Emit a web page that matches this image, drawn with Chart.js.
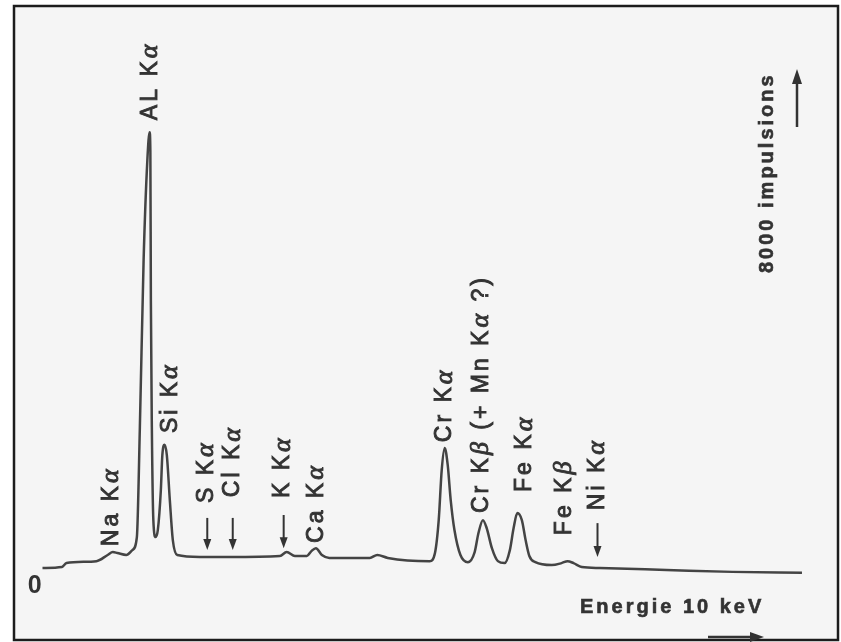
<!DOCTYPE html>
<html>
<head>
<meta charset="utf-8">
<title>Spectre EDX</title>
<script src="https://cdn.jsdelivr.net/npm/chart.js@4.4.1/dist/chart.umd.min.js"></script>
<style>
  html, body { margin: 0; padding: 0; background: #fff; }
  #wrap { width: 841px; height: 642px; }
</style>
</head>
<body>
<div id="wrap"><canvas id="spectrum" width="841" height="642"></canvas></div>
<script>
// energy (keV) / counts
const energy = [0.06, 0.32, 0.38, 0.78, 0.93, 1.00, 1.06, 1.18, 1.26, 1.32, 1.36, 1.41, 1.46, 1.49, 1.50, 1.507,
  1.52, 1.54, 1.57, 1.60, 1.64, 1.66, 1.69, 1.72, 1.76, 1.80, 1.86, 2.16, 2.56, 3.23, 3.32, 3.43, 3.59, 3.65,
  3.71, 3.79, 3.89, 4.43, 4.53, 4.67, 5.23, 5.30, 5.35, 5.39, 5.43, 5.47, 5.51, 5.56, 5.64, 5.74, 5.83, 5.88,
  5.94, 5.99, 6.06, 6.14, 6.23, 6.30, 6.35, 6.40, 6.46, 6.51, 6.56, 6.64, 6.86, 6.99, 7.07, 7.15, 7.26, 7.50,
  8.39, 9.27, 10.20];
const counts = [185, 200, 260, 290, 385, 430, 415, 385, 460, 660, 2350, 4920, 6460, 6890, 6610, 4300,
  2350, 920, 660, 770, 1380, 1920, 2080, 1920, 1230, 615, 385, 355, 355, 370, 430, 370, 370, 445,
  490, 385, 340, 340, 385, 340, 290, 415, 920, 1690, 2030, 1770, 1230, 770, 385, 275, 430, 720,
  920, 800, 490, 290, 260, 460, 800, 1030, 920, 615, 370, 275, 230, 260, 290, 260, 200, 185,
  155, 125, 110];

const peakLabels = ['Na Kα', 'AL Kα', 'Si Kα', 'S Kα', 'Cl Kα', 'K Kα', 'Ca Kα', 'Cr Kα',
  'Cr Kβ (+ Mn Kα ?)', 'Fe Kα', 'Fe Kβ', 'Ni Kα'];
const peakEnergy = [0.98, 1.50, 1.77, 2.25, 2.60, 3.27, 3.72, 5.43, 5.92, 6.50, 7.03, 7.47];
const labelBase = [520, 7075, 2260, 1185, 1275, 1260, 570, 2120, 1030, 1355, 690, 1075];

// small arrows pointing at weak lines: energy, top, tip (counts)
const arrowEnergy = [2.26, 2.60, 3.28, 7.47];
const arrowTop = [955, 955, 1000, 875];
const arrowTip = [460, 460, 490, 355];

const INK = '#333';

function drawRich(ctx, text, size, weight) {
  let cx = 0;
  text.split(/([α-ω])/).forEach(part => {
    if (!part) return;
    const greek = /[α-ω]/.test(part);
    ctx.font = greek ? `italic ${size + 3}px "Liberation Serif"` : `${weight} ${size}px "Liberation Sans"`;
    ctx.fillText(part, cx, 0);
    ctx.strokeText(part, cx, 0);
    cx += ctx.measureText(part).width;
  });
}

function downArrow(ctx, x, y0, y1) {
  ctx.beginPath();
  ctx.moveTo(x, y0);
  ctx.lineTo(x, y1 - 8);
  ctx.stroke();
  ctx.beginPath();
  ctx.moveTo(x - 4, y1 - 11);
  ctx.lineTo(x + 4, y1 - 11);
  ctx.lineTo(x, y1);
  ctx.closePath();
  ctx.fill();
}

const paperPlugin = {
  id: 'paper',
  beforeDraw(chart) {
    const ctx = chart.ctx;
    ctx.save();
    ctx.fillStyle = '#f5f5f5';
    ctx.fillRect(14, 6, 824, 634);
    ctx.strokeStyle = '#1c1c1c';
    ctx.lineWidth = 2.5;
    ctx.strokeRect(14, 6, 824, 634);
    ctx.restore();
  },
  afterDraw(chart) {
    const ctx = chart.ctx;
    const { x: xs, y: ys } = chart.scales;
    ctx.save();
    ctx.fillStyle = INK;
    ctx.strokeStyle = INK;
    ctx.textBaseline = 'middle';
    ctx.textAlign = 'left';
    ctx.letterSpacing = '3px';

    ctx.lineWidth = 0.9;
    peakLabels.forEach((txt, i) => {
      ctx.save();
      ctx.translate(xs.getPixelForValue(peakEnergy[i]), ys.getPixelForValue(labelBase[i]));
      ctx.rotate(-Math.PI / 2);
      drawRich(ctx, txt, 23, 'normal');
      ctx.restore();
    });

    ctx.lineWidth = 2;
    arrowEnergy.forEach((e, i) => {
      downArrow(ctx, xs.getPixelForValue(e), ys.getPixelForValue(arrowTop[i]), ys.getPixelForValue(arrowTip[i]));
    });

    // axis captions
    ctx.font = 'bold 25px "Liberation Sans"';
    ctx.letterSpacing = '0px';
    ctx.fillText('0', xs.getPixelForValue(-0.03) - 8, 586);

    ctx.letterSpacing = '3px';
    ctx.font = 'bold 20px "Liberation Sans"';
    ctx.lineWidth = 0.6;
    ctx.fillText('Energie 10 keV', 580, 607);
    ctx.strokeText('Energie 10 keV', 580, 607);

    ctx.save();
    ctx.translate(767, 273);
    ctx.rotate(-Math.PI / 2);
    ctx.fillText('8000 impulsions', 0, 0);
    ctx.strokeText('8000 impulsions', 0, 0);
    ctx.restore();

    ctx.lineWidth = 2.5;
    ctx.beginPath();
    ctx.moveTo(797, 127);
    ctx.lineTo(797, 80);
    ctx.stroke();
    ctx.beginPath();
    ctx.moveTo(792, 84);
    ctx.lineTo(802, 84);
    ctx.lineTo(797, 69);
    ctx.closePath();
    ctx.fill();

    ctx.beginPath();
    ctx.moveTo(708, 637);
    ctx.lineTo(752, 637);
    ctx.stroke();
    ctx.beginPath();
    ctx.moveTo(750, 632);
    ctx.lineTo(750, 642);
    ctx.lineTo(764, 637);
    ctx.closePath();
    ctx.fill();
    ctx.restore();
  }
};

new Chart(document.getElementById('spectrum'), {
  type: 'line',
  data: {
    datasets: [{
      data: energy.map((e, i) => ({ x: e, y: counts[i] })),
      borderColor: '#444',
      borderWidth: 2.5,
      pointRadius: 0,
      cubicInterpolationMode: 'monotone',
      clip: false
    }]
  },
  options: {
    responsive: false,
    animation: false,
    devicePixelRatio: 1,
    layout: { padding: { left: 38, right: 54, top: 60, bottom: 62 } },
    plugins: { legend: { display: false }, tooltip: { enabled: false } },
    scales: {
      x: { type: 'linear', min: 0, max: 10, display: false },
      y: { min: 0, max: 8000, display: false }
    }
  },
  plugins: [paperPlugin]
});
</script>
</body>
</html>
